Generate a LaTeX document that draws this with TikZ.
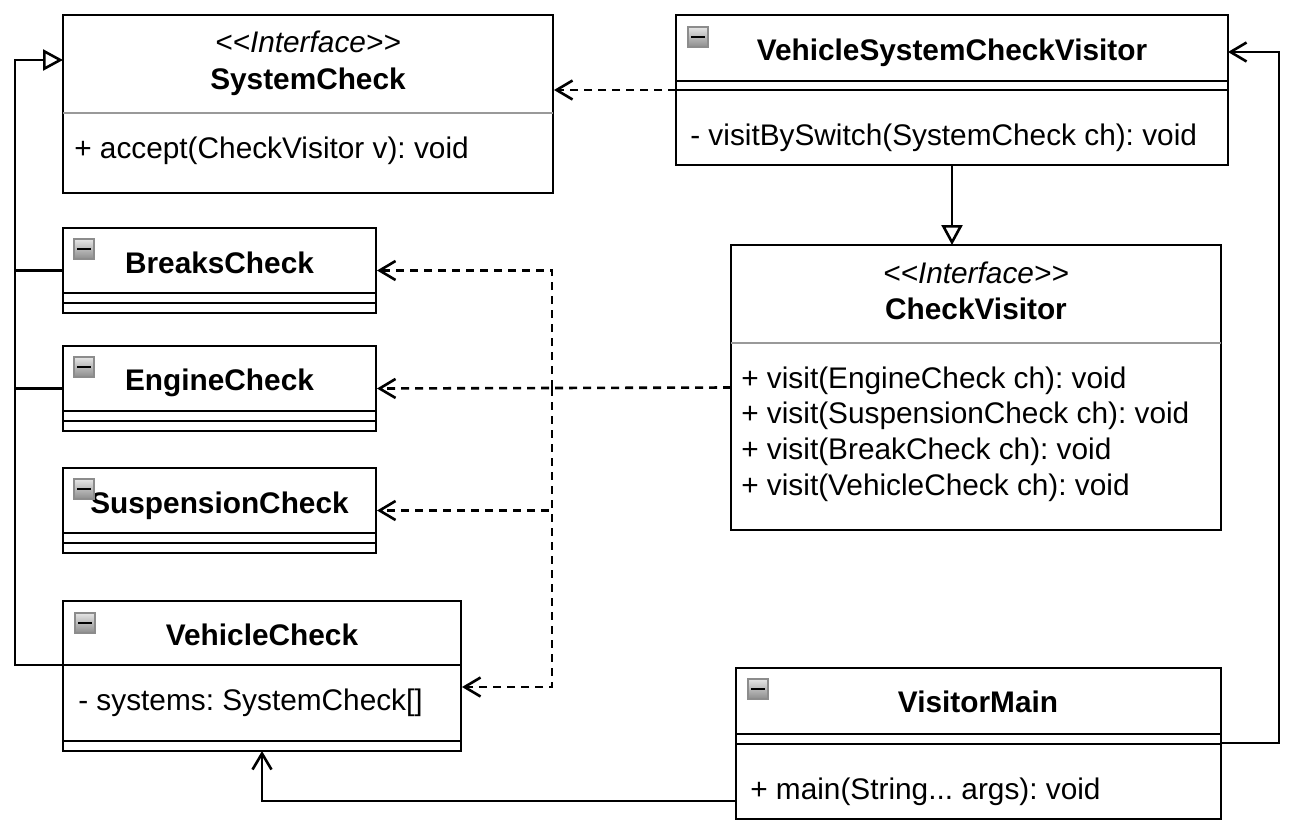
\documentclass[tikz,border=0pt]{standalone}
\usepackage{fontspec}
\setmainfont{Liberation Sans}
\usetikzlibrary{arrows.meta}
\usetikzlibrary{positioning}
\frenchspacing

\tikzset{
  classbox/.style={draw, rectangle, fill=white, inner sep=0pt, outer sep=0pt},
  classname/.style={anchor=base, inner sep=0pt, font=\fontsize{29.8}{34}\selectfont\bfseries},
  stereotype/.style={anchor=base, inner sep=0pt, font=\fontsize{29.8}{34}\selectfont\itshape},
  member/.style={anchor=base west, inner sep=0pt, font=\fontsize{29.8}{34}\selectfont},
  minusicon/.style={draw=black!45, line width=1.5pt, top color=black!10, bottom color=black!45,
    minimum size=20pt, inner sep=0pt, outer sep=0pt,
    path picture={\draw[black, line width=2.6pt] ([xshift=3pt]path picture bounding box.west) -- ([xshift=-3pt]path picture bounding box.east);}},
  divider/.style={draw=black!40},
  realize/.style={-{Triangle[open, length=20pt, width=21pt, line width=2.6pt]}},
  depend/.style={-{Straight Barb[length=16pt, width=19pt, line width=2.6pt]}, dash pattern=on 8pt off 6pt, shorten >=1pt},
  assoc/.style={-{Straight Barb[length=16pt, width=19pt, line width=2.6pt]}}
}

\begin{document}
\begin{tikzpicture}
    [x=1pt, y=-1pt, line width=2.6pt]
    \useasboundingbox (0,0) rectangle (1292,832);

    \node (nsystem) [classbox, minimum width=490pt, minimum height=178pt] at (308,104) {};
    \node (nvehiclesys) [classbox, minimum width=552pt, minimum height=150pt] at (952,90) {};
    \node (nvisitor) [classbox, minimum width=490pt, minimum height=285pt] at (976,387.5) {};
    \node (nbreaks) [classbox, minimum width=313pt, minimum height=85pt] at (219.5,270.5) {};
    \node (nengine) [classbox, minimum width=313pt, minimum height=85pt] at (219.5,388.5) {};
    \node (nsuspension) [classbox, minimum width=313pt, minimum height=85pt] at (219.5,510.5) {};
    \node (nvehicle) [classbox, minimum width=398pt, minimum height=150pt] at (262,676) {};
    \node (nmain) [classbox, minimum width=485pt, minimum height=151pt] at (978.5,743.5) {};

    \draw[divider] (nsystem.west |- 0,113) -- (nsystem.east |- 0,113);
    \draw[divider] (nvisitor.west |- 0,343) -- (nvisitor.east |- 0,343);
    \draw (nvehiclesys.west |- 0,81) -- (nvehiclesys.east |- 0,81);
    \draw (nvehiclesys.west |- 0,90) -- (nvehiclesys.east |- 0,90);
    \draw (nbreaks.west |- 0,293) -- (nbreaks.east |- 0,293);
    \draw (nbreaks.west |- 0,303) -- (nbreaks.east |- 0,303);
    \draw (nengine.west |- 0,411) -- (nengine.east |- 0,411);
    \draw (nengine.west |- 0,421) -- (nengine.east |- 0,421);
    \draw (nsuspension.west |- 0,533) -- (nsuspension.east |- 0,533);
    \draw (nsuspension.west |- 0,543) -- (nsuspension.east |- 0,543);
    \draw (nvehicle.west |- 0,665) -- (nvehicle.east |- 0,665);
    \draw (nvehicle.west |- 0,741) -- (nvehicle.east |- 0,741);
    \draw (nmain.west |- 0,734) -- (nmain.east |- 0,734);
    \draw (nmain.west |- 0,744) -- (nmain.east |- 0,744);

    \node (isystem) [stereotype] at (308,53) {{<}{<}Interface{>}{>}};
    \node (tsystem) [classname] at (308,90) {SystemCheck};
    \node (msystem) [member] at (73,158) {+ accept(CheckVisitor v): void};

    \node (tvehiclesys) [classname] at (952,61) {VehicleSystemCheckVisitor};
    \node (mvehiclesys) [member] at (689,145) {- visitBySwitch(SystemCheck ch): void};

    \node (ivisitor) [stereotype] at (976,283) {{<}{<}Interface{>}{>}};
    \node (tvisitor) [classname] at (976,319) {CheckVisitor};
    \node (mvisitora) [member] at (740,388) {+ visit(EngineCheck ch): void};
    \node (mvisitorb) [member] at (740,423.5) {+ visit(SuspensionCheck ch): void};
    \node (mvisitorc) [member] at (740,459) {+ visit(BreakCheck ch): void};
    \node (mvisitord) [member] at (740,495) {+ visit(VehicleCheck ch): void};

    \node (tbreaks) [classname] at (219.5,273) {BreaksCheck};
    \node (tengine) [classname] at (219.5,390) {EngineCheck};
    \node (tsuspension) [classname] at (219.5,513) {SuspensionCheck};
    \node (tvehicle) [classname] at (262,645) {VehicleCheck};
    \node (mvehicle) [member] at (77,710) {- systems: SystemCheck[]};
    \node (tmain) [classname] at (978,712) {VisitorMain};
    \node (mmain) [member] at (749,799) {+ main(String... args): void};

    \node (ivehiclesys) [minusicon] at (698,37) {};
    \node (ibreaks) [minusicon] at (84,249) {};
    \node (iengine) [minusicon] at (84,367) {};
    \node (isuspension) [minusicon] at (84,489) {};
    \node (ivehicle) [minusicon] at (85,623) {};
    \node (imain) [minusicon] at (758,689) {};

    \coordinate (ctop) at (15,60);
    \coordinate (cright) at (1279,52);
    \coordinate (cdash) at (552,388);

    \draw[realize] (nvehicle.west |- 0,665) -| (ctop) -- (nsystem.west |- ctop);
    \draw (nbreaks.west) -- (ctop |- nbreaks.west);
    \draw (nengine.west) -- (ctop |- nengine.west);
    \draw[realize] (nvehiclesys.south) -- (nvehiclesys.south |- nvisitor.north);
    \draw[depend] (nvehiclesys.west |- 0,90) -- (nsystem.east |- 0,90);
    \draw[depend] (nvisitor.west) -- (nengine.east);
    \draw[depend] (cdash) |- (nbreaks.east);
    \draw[depend] (cdash) |- (nsuspension.east);
    \draw[depend] (cdash) |- (nvehicle.east |- 0,687);
    \draw[assoc] (nmain.east |- 0,743) -| (cright) -- (nvehiclesys.east |- cright);
    \draw[assoc] (nmain.west |- 0,801) -| (nvehicle.south);

\end{tikzpicture}
\end{document}
